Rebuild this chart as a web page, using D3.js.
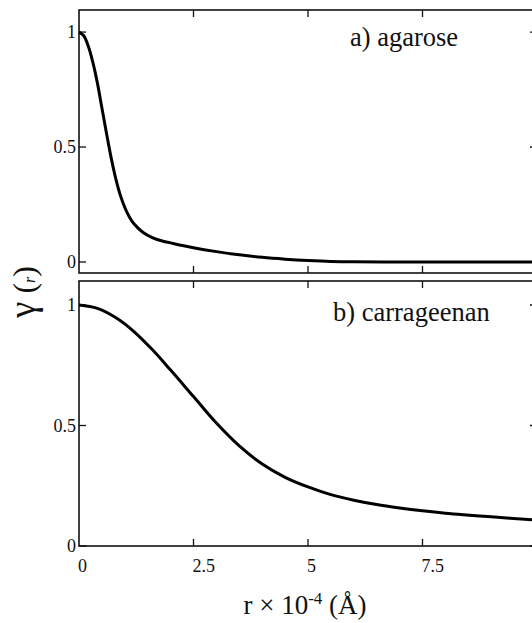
<!DOCTYPE html>
<html>
  <head>
    <meta http-equiv="Content-Type" content="text/html; charset=UTF-8">
    <script type="text/javascript" src="https://cdn.jsdelivr.net/npm/d3@7/dist/d3.min.js"></script>
    <style>
      body { margin: 0; background: #fff; }
      #chart { width: 532px; height: 623px; }
      svg text { font-family: 'Liberation Serif', 'Times New Roman', Times, 'DejaVu Serif', serif; fill: #111; }
    </style>
  </head>
  <body>
    <div id="chart"></div>
    <script>
// values (r in units of 10^4 A)
var rAgarose = [0, 0.1, 0.2, 0.3, 0.4, 0.5, 0.6, 0.7, 0.8, 0.9, 1.0, 1.1, 1.2, 1.4, 1.6, 1.8, 2.0, 2.5, 3.0, 3.5, 4.0, 4.5, 5.0, 5.5, 6.0, 7.0, 8.0, 9.0, 10.0];
var gAgarose = [1, 0.985, 0.94, 0.87, 0.78, 0.67, 0.56, 0.455, 0.365, 0.292, 0.237, 0.196, 0.166, 0.128, 0.106, 0.092, 0.083, 0.062, 0.045, 0.031, 0.02, 0.012, 0.006, 0.002, 0.001, 0, 0, 0, 0];

var rCarrageenan = [0, 0.4, 0.8, 1.2, 1.6, 2.0, 2.5, 3.0, 3.5, 4.0, 4.5, 5.0, 5.5, 6.0, 6.5, 7.0, 7.5, 8.0, 9.0, 10.0];
var gCarrageenan = [1, 0.986, 0.948, 0.89, 0.815, 0.73, 0.62, 0.51, 0.415, 0.34, 0.285, 0.245, 0.213, 0.19, 0.172, 0.158, 0.146, 0.136, 0.121, 0.108];

var xTicks = [0, 2.5, 5, 7.5];
var xTickLabels = ["0", "2.5", "5", "7.5"];
var yTicks = [0, 0.5, 1];
var yTickLabels = ["0", "0.5", "1"];

var panels = [
  {label: "a) agarose", r: rAgarose, g: gAgarose, top: 10, bottom: 273, ydom: [-0.048, 1.096], lx: 350, ly: 46},
  {label: "b) carrageenan", r: rCarrageenan, g: gCarrageenan, top: 281, bottom: 546, ydom: [0, 1.0996], lx: 333, ly: 321}
];

var width = 532, height = 623;
var left = 79, right = 537;
var tick = 7;

var svg = d3.select("#chart").append("svg")
    .attr("width", width)
    .attr("height", height);

var x = d3.scaleLinear().domain([0, 10]).range([left, right]);

panels.forEach(function (p) {
  var y = d3.scaleLinear().domain(p.ydom).range([p.bottom, p.top]);
  var g = svg.append("g");

  // frame
  g.append("rect")
      .attr("x", left)
      .attr("y", p.top)
      .attr("width", right - left)
      .attr("height", p.bottom - p.top)
      .attr("fill", "none")
      .attr("stroke", "#111")
      .attr("stroke-width", 1.6);

  // inward ticks on all four sides
  xTicks.forEach(function (t) {
    if (t === 0) return;
    g.append("line").attr("x1", x(t)).attr("x2", x(t))
        .attr("y1", p.top).attr("y2", p.top + tick)
        .attr("stroke", "#111").attr("stroke-width", 1.3);
    g.append("line").attr("x1", x(t)).attr("x2", x(t))
        .attr("y1", p.bottom).attr("y2", p.bottom - tick)
        .attr("stroke", "#111").attr("stroke-width", 1.3);
  });
  yTicks.forEach(function (t, i) {
    g.append("line").attr("x1", left).attr("x2", left + tick)
        .attr("y1", y(t)).attr("y2", y(t))
        .attr("stroke", "#111").attr("stroke-width", 1.3);
    g.append("line").attr("x1", right).attr("x2", right - tick)
        .attr("y1", y(t)).attr("y2", y(t))
        .attr("stroke", "#111").attr("stroke-width", 1.3);
    g.append("text")
        .attr("x", left - 3)
        .attr("y", y(t) + 6)
        .attr("text-anchor", "end")
        .attr("font-size", "18px")
        .text(yTickLabels[i]);
  });

  var line = d3.line()
      .x(function (d) { return x(d[0]); })
      .y(function (d) { return y(d[1]); })
      .curve(d3.curveCatmullRom.alpha(0.5));

  g.append("path")
      .datum(d3.zip(p.r, p.g))
      .attr("d", line)
      .attr("fill", "none")
      .attr("stroke", "#000")
      .attr("stroke-width", 3);

  g.append("text")
      .attr("x", p.lx)
      .attr("y", p.ly)
      .attr("font-size", "26.5px")
      .text(p.label);
});

// x tick labels under bottom panel
xTicks.forEach(function (t, i) {
  svg.append("text")
      .attr("x", x(t) - 1)
      .attr("y", 572)
      .attr("font-size", "18px")
      .text(xTickLabels[i]);
});

// x title
var xt = svg.append("text")
    .attr("x", 305)
    .attr("y", 614)
    .attr("text-anchor", "middle")
    .attr("font-size", "27px");
xt.append("tspan").text("r \u00d7 10");
xt.append("tspan").attr("dy", -10).attr("font-size", "17px").text("-4");
xt.append("tspan").attr("dy", 10).text(" (\u00c5)");

// y title
var yt = svg.append("text")
    .attr("transform", "translate(35,292) rotate(-90)")
    .attr("text-anchor", "middle");
yt.append("tspan").attr("font-size", "37px").text("\u03b3");
yt.append("tspan").attr("font-size", "32px").text(" (");
yt.append("tspan").attr("font-size", "16px").attr("font-style", "italic").text("r");
yt.append("tspan").attr("font-size", "32px").text(")");
    </script>
  </body>
</html>
